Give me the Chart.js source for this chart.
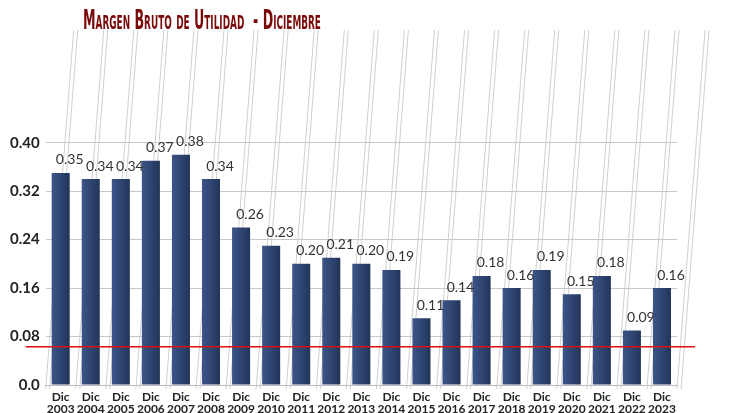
<!DOCTYPE html>
<html>
<head>
<meta charset="utf-8">
<script src="https://cdn.jsdelivr.net/npm/chart.js@4"></script>
<style>
  body { margin: 0; background: #fff; }
  #wrap { position: relative; width: 729px; height: 413px; }
  #titulo {
    position: absolute; left: 83px; top: 4px;
    font-family: "Liberation Sans Narrow", "DejaVu Sans Condensed", sans-serif;
    font-weight: bold; font-size: 27px; color: #7a0a0a;
    font-variant: small-caps; white-space: pre;
    transform: scaleX(0.52); transform-origin: left top;
  }
</style>
</head>
<body>
<div id="wrap">
  <div id="titulo">Margen Bruto de Utilidad  - Diciembre</div>
  <canvas id="myChart" width="729" height="413"></canvas>
</div>
<script>
var anios = ['2003','2004','2005','2006','2007','2008','2009','2010','2011','2012','2013',
             '2014','2015','2016','2017','2018','2019','2020','2021','2022','2023'];
var margen = [0.35, 0.34, 0.34, 0.37, 0.38, 0.34, 0.26, 0.23, 0.20, 0.21, 0.20,
              0.19, 0.11, 0.14, 0.18, 0.16, 0.19, 0.15, 0.18, 0.09, 0.16];
var yTicks = [0, 0.08, 0.16, 0.24, 0.32, 0.40];
var umbral = 0.063;

var etiquetas = anios.map(function(a){ return ['Dic', a]; });

// lineas inclinadas de fondo + linea roja + valores
var fondo = {
  id: 'fondo',
  beforeDatasetsDraw: function(chart){
    var c = chart.ctx, x = chart.scales.x, a = chart.chartArea;
    c.save();
    c.strokeStyle = '#c4c4c4';
    c.lineWidth = 0.8;
    for (var i = 0; i <= anios.length; i++) {
      var px = x.getPixelForValue(i) - 15;
      [0, 4].forEach(function(d){
        c.beginPath();
        c.moveTo(px + d, a.bottom + 4);
        c.lineTo(px + d + 28, a.top - 40);
        c.stroke();
      });
    }
    c.restore();
  },
  afterDatasetsDraw: function(chart){
    var c = chart.ctx, y = chart.scales.y, a = chart.chartArea;
    var py = y.getPixelForValue(umbral);
    c.save();
    c.strokeStyle = '#e01010';
    c.lineWidth = 1.5;
    c.beginPath();
    c.moveTo(a.left - 20, py);
    c.lineTo(a.right + 18, py);
    c.stroke();
    c.fillStyle = '#333';
    c.font = '14px Lato, "Open Sans", sans-serif';
    c.textAlign = 'center';
    c.textBaseline = 'bottom';
    chart.getDatasetMeta(0).data.forEach(function(bar, i){
      c.fillText(margen[i].toFixed(2), bar.x + 9, bar.y - 6);
    });
    c.restore();
  }
};

var ctx = document.getElementById('myChart').getContext('2d');
var myChart = new Chart(ctx, {
  type: 'bar',
  data: {
    labels: etiquetas,
    datasets: [{
      data: margen,
      backgroundColor: function(context){
        var ch = context.chart, a = ch.chartArea;
        if (!a || !ch.scales.x) return '#2c3f68';
        var cx = ch.scales.x.getPixelForValue(context.dataIndex);
        var g = ch.ctx.createLinearGradient(cx - 9, 0, cx + 9, 0);
        g.addColorStop(0, '#3c5589');
        g.addColorStop(1, '#22355a');
        return g;
      },
      barPercentage: 0.6,
      categoryPercentage: 1.0
    }]
  },
  options: {
    responsive: false,
    animation: false,
    layout: { padding: { top: 70, left: 4, right: 52, bottom: 0 } },
    plugins: {
      legend: { display: false },
      tooltip: { enabled: false }
    },
    scales: {
      x: {
        grid: { display: false },
        border: { color: '#bbb' },
        ticks: {
          color: '#222',
          font: { family: 'Lato, "Open Sans", sans-serif', weight: 'bold', size: 12, lineHeight: 1.0 },
          maxRotation: 0, autoSkip: false, padding: -2
        }
      },
      y: {
        min: 0, max: 0.52,
        afterBuildTicks: function(axis){
          axis.ticks = yTicks.map(function(v){ return { value: v }; });
        },
        grid: { color: '#c8c8c8', drawTicks: false },
        border: { display: false },
        ticks: {
          color: '#222', padding: 6,
          font: { family: 'Lato, "Open Sans", sans-serif', weight: 'bold', size: 15 },
          callback: function(v){ return v === 0 ? '0.0' : v.toFixed(2); }
        }
      }
    }
  },
  plugins: [fondo]
});
</script>
</body>
</html>
